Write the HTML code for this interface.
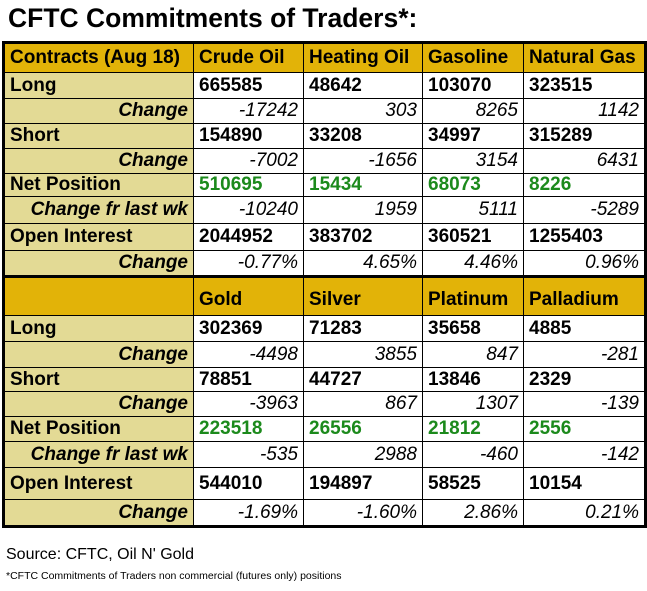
<!DOCTYPE html><html><head><style>
body{margin:0;width:647px;height:591px;background:#fff;position:relative;font-family:"Liberation Sans",Arial,sans-serif;overflow:hidden}
.t{position:absolute;left:8px;top:3px;font-weight:bold;font-size:26.5px;color:#000}
table{position:absolute;left:2px;top:41px;border-collapse:collapse;border:3px solid #000;table-layout:fixed}
td{border:1px solid #000;padding:0 5px;font-size:19px;font-weight:bold;white-space:nowrap;overflow:hidden;background:#fff}
td.l{background:#e3da95}
tr.h td{background:#e2b308}
td.r{text-align:right;font-style:italic;font-weight:normal}
td.lr{text-align:right;font-style:italic}
.g{color:#1c8a1c}
tr.gh{border-top:3px solid #000}
tr.gh td{background:#e2b308;vertical-align:bottom;padding-bottom:4px}
.s1{position:absolute;left:6px;top:546px;font-size:16px}
.s2{position:absolute;left:6px;top:570px;font-size:10.5px}
</style></head><body>
<div class="t">CFTC Commitments of Traders*:</div>
<table>
<colgroup><col style="width:190px"><col style="width:110px"><col style="width:119px"><col style="width:101px"><col style="width:122px"></colgroup>
<tr class="h" style="height:30px"><td>Contracts (Aug 18)</td><td>Crude Oil</td><td>Heating Oil</td><td>Gasoline</td><td>Natural Gas</td></tr>
<tr style="height:26px"><td class="l">Long</td><td>665585</td><td>48642</td><td>103070</td><td>323515</td></tr>
<tr style="height:25px"><td class="l lr">Change</td><td class="r">-17242</td><td class="r">303</td><td class="r">8265</td><td class="r">1142</td></tr>
<tr style="height:25px"><td class="l">Short</td><td>154890</td><td>33208</td><td>34997</td><td>315289</td></tr>
<tr style="height:25px"><td class="l lr">Change</td><td class="r">-7002</td><td class="r">-1656</td><td class="r">3154</td><td class="r">6431</td></tr>
<tr style="height:23px"><td class="l">Net Position</td><td class="g">510695</td><td class="g">15434</td><td class="g">68073</td><td class="g">8226</td></tr>
<tr style="height:27px"><td class="l lr">Change fr last wk</td><td class="r">-10240</td><td class="r">1959</td><td class="r">5111</td><td class="r">-5289</td></tr>
<tr style="height:27px"><td class="l">Open Interest</td><td>2044952</td><td>383702</td><td>360521</td><td>1255403</td></tr>
<tr style="height:26px"><td class="l lr">Change</td><td class="r">-0.77%</td><td class="r">4.65%</td><td class="r">4.46%</td><td class="r">0.96%</td></tr>
<tr class="gh" style="height:39px"><td></td><td>Gold</td><td>Silver</td><td>Platinum</td><td>Palladium</td></tr>
<tr style="height:26px"><td class="l">Long</td><td>302369</td><td>71283</td><td>35658</td><td>4885</td></tr>
<tr style="height:26px"><td class="l lr">Change</td><td class="r">-4498</td><td class="r">3855</td><td class="r">847</td><td class="r">-281</td></tr>
<tr style="height:24px"><td class="l">Short</td><td>78851</td><td>44727</td><td>13846</td><td>2329</td></tr>
<tr style="height:25px"><td class="l lr">Change</td><td class="r">-3963</td><td class="r">867</td><td class="r">1307</td><td class="r">-139</td></tr>
<tr style="height:25px"><td class="l">Net Position</td><td class="g">223518</td><td class="g">26556</td><td class="g">21812</td><td class="g">2556</td></tr>
<tr style="height:26px"><td class="l lr">Change fr last wk</td><td class="r">-535</td><td class="r">2988</td><td class="r">-460</td><td class="r">-142</td></tr>
<tr style="height:32px"><td class="l">Open Interest</td><td>544010</td><td>194897</td><td>58525</td><td>10154</td></tr>
<tr style="height:27px"><td class="l lr">Change</td><td class="r">-1.69%</td><td class="r">-1.60%</td><td class="r">2.86%</td><td class="r">0.21%</td></tr>
</table>
<div class="s1">Source: CFTC, Oil N' Gold</div>
<div class="s2">*CFTC Commitments of Traders non commercial (futures only) positions</div>
</body></html>
